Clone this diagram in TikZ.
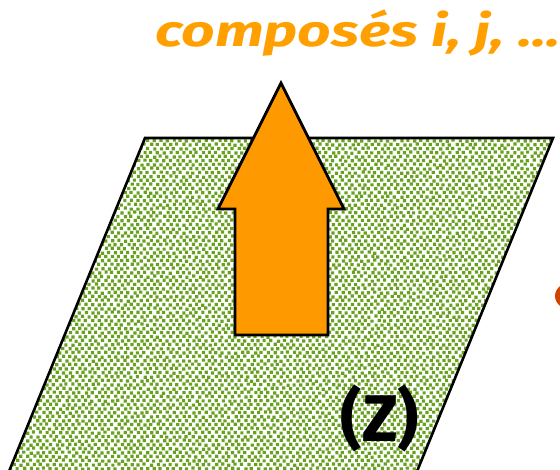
\documentclass[tikz,border=0pt]{standalone}
\usepackage{fontspec}
\setmainfont{Fira Sans}
\definecolor{zgreen}{RGB}{104,160,32}
\definecolor{arrorange}{RGB}{255,153,0}
\definecolor{txtorange}{RGB}{255,160,0}
\definecolor{redorange}{RGB}{208,68,0}
\tikzset{
  planeedge/.style={draw=black, line width=2.6pt, line join=miter},
  dotfill/.style={fill=zgreen},
  bigarrow/.style={fill=arrorange, draw=black, line width=2.8pt, line join=miter},
  titletext/.style={text=txtorange, font=\fontsize{44}{48}\selectfont\bfseries\itshape, inner sep=0pt},
  labeltext/.style={text=black, font=\fontsize{66}{70}\selectfont\bfseries, inner sep=0pt}
}
\begin{document}
\begin{tikzpicture}[x=1pt,y=-1pt]
\pgfmathsetseed{7}
\useasboundingbox (0,0) rectangle (560,470);
\clip (0,0) rectangle (560,470);
% plane dots
\begin{scope}
  \clip (145,138) -- (553,138) -- (413.5,480) -- (5.5,480) -- cycle;
  \foreach \j in {0,...,85} {
    \path[dotfill] \foreach \i in {0,...,86} {
      ({\i*6.5+mod(\j,2)*3.25+0.8*rand}, {135+\j*4+0.6*rand}) rectangle ++(3.2,3.2) };
  }
\end{scope}
\path[planeedge] (145,138) -- (553,138) -- (413.5,480) -- (5.5,480) -- cycle;
% label
\node[labeltext, anchor=center] (zlabel) at (380,418) {(Z)};
% arrow
\path[bigarrow] (281,83) -- (344,209) -- (328,209) -- (328,335) -- (235,335) -- (235,209) -- (218,209) -- cycle;
% title
\node[titletext, anchor=base west, xscale=1.33] (title) at (155,47) {composés i, j, ...};
% partial red-orange shape at right edge
\fill[redorange] (575,296) ellipse [x radius=20, y radius=15];
\end{tikzpicture}
\end{document}
